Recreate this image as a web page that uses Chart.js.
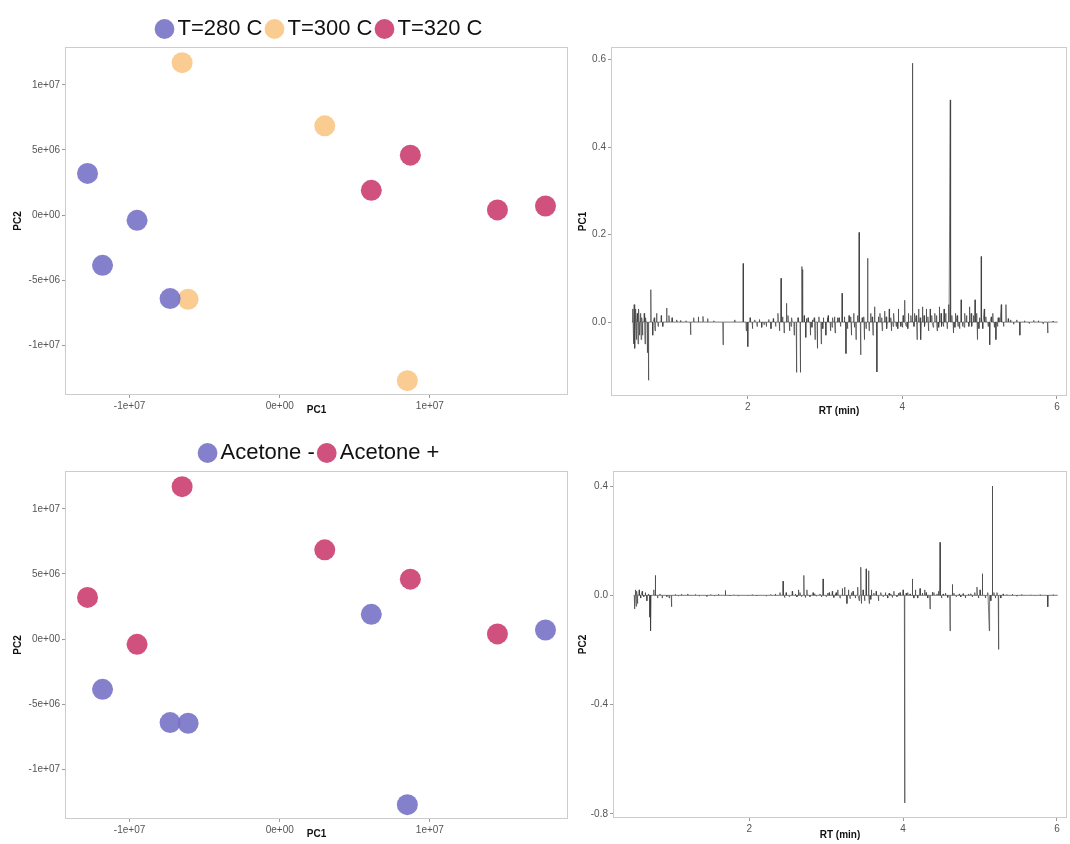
<!DOCTYPE html>
<html>
<head>
<meta charset="utf-8">
<script src="https://cdn.jsdelivr.net/npm/chart.js@4.4.1/dist/chart.umd.min.js"></script>
<style>
  body { margin: 0; background: #fff; }
  canvas { position: absolute; }
</style>
</head>
<body>
<canvas id="scoresTemp" width="570" height="420" style="left:0;top:0"></canvas>
<canvas id="loadPC1" width="500" height="420" style="left:570px;top:0"></canvas>
<canvas id="scoresAcetone" width="570" height="424" style="left:0;top:420px"></canvas>
<canvas id="loadPC2" width="500" height="424" style="left:570px;top:420px"></canvas>
<script>
// PCA scores, 12 samples (same order in both score plots)
var pc1Scores = [-1.28e7, -9.5e6, -1.18e7, -7.3e6, -6.5e6, 3.0e6, -6.1e6, 8.5e6, 8.7e6, 6.1e6, 1.45e7, 1.77e7];
var pc2Scores = [3.2e6, -0.4e6, -3.85e6, -6.4e6, 1.17e7, 6.85e6, -6.45e6, -1.27e7, 4.6e6, 1.9e6, 0.4e6, 0.7e6];
var tempGroup = ['T=280 C', 'T=280 C', 'T=280 C', 'T=280 C', 'T=300 C', 'T=300 C', 'T=300 C', 'T=300 C', 'T=320 C', 'T=320 C', 'T=320 C', 'T=320 C'];
var acetoneGroup = ['Acetone +', 'Acetone +', 'Acetone -', 'Acetone -', 'Acetone +', 'Acetone +', 'Acetone -', 'Acetone -', 'Acetone +', 'Acetone -', 'Acetone +', 'Acetone -'];
var tempLevels = ['T=280 C', 'T=300 C', 'T=320 C'];
var acetoneLevels = ['Acetone -', 'Acetone +'];

var scoreXTicks = [-1e7, 0, 1e7];
var scoreYTicks = [-1e7, -5e6, 0, 5e6, 1e7];

// loading peaks: [RT (min), loading]; the trace sits at 0 between them
var rtStart = 0.50, rtEnd = 6.01;
var pc1Peaks = [
  [0.51, 0.03], [0.52, -0.05], [0.53, 0.04], [0.54, -0.06], [0.55, 0.03], [0.56, -0.04], [0.57, 0.02],
  [0.58, -0.05], [0.59, 0.03], [0.60, -0.03], [0.61, 0.02], [0.62, -0.04], [0.63, 0.01], [0.64, -0.03],
  [0.66, 0.02], [0.67, -0.05], [0.68, 0.01], [0.70, -0.07], [0.715, -0.133], [0.745, 0.074], [0.77, -0.03],
  [0.79, 0.01], [0.80, -0.02], [0.82, 0.02], [0.84, -0.01], [0.88, 0.015], [0.90, -0.01], [0.95, 0.032],
  [0.98, 0.015], [1.02, 0.01], [1.08, 0.005], [1.13, 0.004], [1.20, 0.003], [1.26, -0.029], [1.30, 0.01],
  [1.36, 0.012], [1.42, 0.013], [1.48, 0.008], [1.56, 0.003], [1.68, -0.052], [1.83, 0.005], [1.94, 0.134],
  [1.98, -0.02], [2.00, -0.056], [2.03, 0.01], [2.06, -0.015], [2.09, 0.005], [2.12, -0.01], [2.15, 0.006],
  [2.18, -0.012], [2.21, -0.006], [2.24, -0.01], [2.27, 0.006], [2.30, -0.015], [2.33, 0.008], [2.36, -0.01],
  [2.39, 0.02], [2.41, -0.02], [2.43, 0.10], [2.45, 0.012], [2.47, -0.025], [2.50, 0.043], [2.52, 0.015],
  [2.54, -0.02], [2.56, -0.01], [2.57, 0.01], [2.60, -0.03], [2.63, -0.115], [2.65, 0.01], [2.68, -0.115],
  [2.70, 0.127], [2.71, 0.12], [2.73, 0.015], [2.75, -0.035], [2.76, 0.008], [2.78, 0.01], [2.81, -0.03],
  [2.83, -0.012], [2.84, 0.005], [2.86, 0.01], [2.87, -0.04], [2.90, -0.06], [2.92, 0.012], [2.95, -0.05],
  [2.97, -0.015], [2.98, 0.01], [3.01, -0.03], [3.03, 0.01], [3.04, 0.015], [3.07, -0.02], [3.09, -0.012],
  [3.10, 0.01], [3.12, 0.012], [3.13, -0.025], [3.16, 0.01], [3.18, 0.01], [3.20, -0.01], [3.22, 0.066],
  [3.25, 0.012], [3.27, -0.072], [3.29, -0.015], [3.31, 0.015], [3.33, 0.012], [3.34, -0.03], [3.37, 0.02],
  [3.38, -0.012], [3.40, -0.04], [3.42, 0.015], [3.44, 0.205], [3.46, -0.075], [3.48, 0.01], [3.50, 0.012],
  [3.51, -0.04], [3.53, -0.015], [3.55, 0.146], [3.57, -0.02], [3.59, 0.02], [3.61, 0.012], [3.62, -0.03],
  [3.64, 0.035], [3.67, -0.114], [3.69, 0.012], [3.71, 0.02], [3.73, 0.01], [3.74, -0.02], [3.77, 0.025],
  [3.79, 0.012], [3.80, -0.015], [3.83, 0.03], [3.85, 0.01], [3.86, -0.02], [3.88, -0.01], [3.89, 0.02],
  [3.92, -0.01], [3.94, -0.015], [3.95, 0.03], [3.98, -0.01], [4.00, -0.012], [4.01, 0.015], [4.03, 0.05],
  [4.05, -0.01], [4.07, -0.015], [4.08, 0.02], [4.11, 0.015], [4.13, 0.592], [4.15, -0.01], [4.16, 0.02],
  [4.18, 0.015], [4.19, -0.04], [4.21, 0.03], [4.23, 0.01], [4.24, -0.04], [4.26, 0.035], [4.28, 0.015],
  [4.29, -0.01], [4.31, 0.03], [4.33, 0.012], [4.34, -0.02], [4.36, 0.03], [4.38, 0.015], [4.40, -0.012],
  [4.42, 0.02], [4.44, 0.015], [4.45, -0.02], [4.47, -0.012], [4.48, 0.035], [4.50, 0.02], [4.51, -0.01],
  [4.53, -0.01], [4.54, 0.03], [4.56, 0.02], [4.58, -0.015], [4.60, 0.04], [4.62, 0.508], [4.64, 0.015],
  [4.66, -0.025], [4.68, -0.012], [4.69, 0.02], [4.71, 0.015], [4.72, -0.01], [4.74, -0.015], [4.76, 0.051],
  [4.78, -0.01], [4.80, -0.012], [4.81, 0.02], [4.83, 0.015], [4.86, -0.01], [4.87, 0.035], [4.89, 0.02],
  [4.90, -0.01], [4.92, 0.015], [4.94, 0.051], [4.96, 0.02], [4.97, -0.04], [4.99, -0.015], [5.00, 0.01],
  [5.02, 0.15], [5.04, -0.015], [5.06, 0.03], [5.08, 0.012], [5.11, -0.01], [5.13, -0.052], [5.15, 0.012],
  [5.17, 0.02], [5.19, -0.012], [5.21, -0.04], [5.23, -0.01], [5.24, 0.01], [5.26, 0.01], [5.28, 0.04],
  [5.31, -0.01], [5.34, 0.04], [5.37, 0.008], [5.40, 0.005], [5.44, -0.005], [5.48, 0.005], [5.52, -0.03],
  [5.58, 0.003], [5.64, -0.003], [5.70, 0.004], [5.76, 0.003], [5.82, -0.004], [5.88, -0.025], [5.95, 0.002]
];

var pc2Peaks = [
  [0.51, -0.05], [0.52, 0.02], [0.53, -0.04], [0.54, 0.015], [0.55, -0.03], [0.57, 0.02], [0.59, -0.01],
  [0.61, 0.015], [0.63, -0.005], [0.65, 0.01], [0.67, -0.02], [0.69, 0.005], [0.71, -0.08], [0.72, -0.13],
  [0.76, 0.02], [0.78, 0.073], [0.81, -0.01], [0.84, 0.005], [0.87, -0.01], [0.93, -0.005], [0.96, -0.01],
  [0.99, -0.042], [1.04, 0.003], [1.08, -0.003], [1.12, 0.004], [1.20, 0.005], [1.25, -0.002], [1.30, 0.003],
  [1.35, -0.003], [1.45, -0.004], [1.50, 0.003], [1.55, -0.003], [1.60, 0.004], [1.69, 0.018], [1.75, -0.002],
  [1.80, 0.002], [1.86, -0.003], [1.98, -0.002], [2.04, 0.002], [2.10, -0.002], [2.22, -0.003], [2.28, 0.003],
  [2.34, 0.005], [2.40, 0.01], [2.44, 0.052], [2.46, -0.008], [2.48, 0.01], [2.52, -0.005], [2.56, 0.015],
  [2.60, 0.005], [2.62, -0.006], [2.64, 0.02], [2.66, 0.01], [2.68, -0.005], [2.71, 0.073], [2.73, -0.008],
  [2.75, 0.02], [2.79, -0.005], [2.83, 0.01], [2.85, 0.006], [2.87, -0.003], [2.92, 0.005], [2.94, -0.006],
  [2.96, 0.06], [3.00, -0.005], [3.02, 0.008], [3.04, 0.01], [3.08, 0.015], [3.10, -0.008], [3.12, 0.005],
  [3.13, 0.01], [3.15, 0.02], [3.18, -0.01], [3.21, 0.025], [3.24, 0.03], [3.27, -0.03], [3.29, 0.02],
  [3.31, -0.012], [3.33, 0.01], [3.35, 0.015], [3.38, -0.01], [3.41, 0.03], [3.43, -0.02], [3.45, 0.103],
  [3.46, -0.03], [3.48, 0.02], [3.50, -0.02], [3.52, 0.097], [3.55, 0.09], [3.56, -0.03], [3.58, -0.015],
  [3.59, 0.02], [3.62, 0.008], [3.65, 0.015], [3.68, -0.02], [3.71, 0.01], [3.74, -0.005], [3.77, 0.01],
  [3.80, -0.01], [3.82, 0.008], [3.84, 0.005], [3.86, -0.008], [3.88, 0.015], [3.92, -0.005], [3.94, 0.008],
  [3.96, 0.01], [4.00, 0.02], [4.02, -0.76], [4.04, 0.008], [4.06, 0.01], [4.09, 0.005], [4.12, 0.06],
  [4.14, -0.01], [4.16, 0.02], [4.19, -0.01], [4.22, 0.025], [4.25, 0.008], [4.28, 0.02], [4.30, 0.01],
  [4.32, -0.01], [4.35, -0.05], [4.38, 0.012], [4.40, 0.01], [4.44, 0.005], [4.46, 0.015], [4.48, 0.194],
  [4.50, -0.01], [4.52, 0.005], [4.55, 0.008], [4.58, -0.008], [4.61, -0.13], [4.64, 0.04], [4.66, 0.008],
  [4.69, -0.005], [4.73, 0.005], [4.75, -0.006], [4.78, 0.006], [4.81, -0.01], [4.85, 0.005], [4.88, 0.006],
  [4.90, -0.006], [4.93, 0.01], [4.96, 0.03], [4.98, -0.01], [5.00, 0.02], [5.03, 0.079], [5.07, -0.01],
  [5.10, 0.01], [5.12, -0.13], [5.14, -0.02], [5.16, 0.40], [5.18, 0.01], [5.20, -0.01], [5.22, 0.01],
  [5.24, -0.198], [5.27, -0.01], [5.30, 0.005], [5.35, 0.003], [5.42, 0.004], [5.48, -0.003], [5.54, 0.003],
  [5.66, 0.002], [5.72, -0.002], [5.78, 0.002], [5.88, -0.042], [5.95, 0.002]
];
var rtTicks = [2, 4, 6];
var pc1LoadTicks = [0, 0.2, 0.4, 0.6];
var pc2LoadTicks = [-0.8, -0.4, 0, 0.4];

var groupColors = {
  'T=280 C': 'rgba(120, 114, 198, 0.9)',
  'T=300 C': 'rgba(251, 198, 134, 0.9)',
  'T=320 C': 'rgba(204, 62, 112, 0.9)',
  'Acetone -': 'rgba(120, 114, 198, 0.9)',
  'Acetone +': 'rgba(204, 62, 112, 0.9)'
};

var tickFont = { family: 'Liberation Sans, Arial, sans-serif', size: 10 };
var titleFont = { family: 'Liberation Sans, Arial, sans-serif', size: 10, weight: 'bold' };

function sciLabel(v) {
  if (v === 0) return '0e+00';
  var e = Math.floor(Math.log10(Math.abs(v)) + 1e-9);
  var m = Math.round(v / Math.pow(10, e));
  var s = e < 0 ? '-' : '+';
  var ae = Math.abs(e);
  return m + 'e' + s + (ae < 10 ? '0' + ae : ae);
}

// each peak becomes a thin spike up/down from the zero line
function toTrace(peaks) {
  var sorted = peaks.slice().sort(function (a, b) { return a[0] - b[0]; });
  var pts = [{ x: rtStart, y: 0 }];
  sorted.forEach(function (p) {
    pts.push({ x: p[0] - 0.004, y: 0 }, { x: p[0], y: p[1] }, { x: p[0] + 0.004, y: 0 });
  });
  pts.push({ x: rtEnd, y: 0 });
  return pts;
}

// grey frame round the plot area
var panelBorder = {
  id: 'panelBorder',
  afterDraw: function (chart) {
    var a = chart.chartArea, c = chart.ctx;
    c.save();
    c.strokeStyle = '#cccccc';
    c.lineWidth = 1;
    c.strokeRect(a.left + 0.5, a.top + 0.5, a.right - a.left - 1, a.bottom - a.top - 1);
    c.restore();
  }
};

// move the legend a little right / down, like ggplot places it
var nudgeLegend = {
  id: 'nudgeLegend',
  afterLayout: function (chart) {
    if (!chart.legend) return;
    chart.legend.left += 6; chart.legend.right += 6;
    chart.legend.top += 3; chart.legend.bottom += 3;
  }
};

function axis(opts) {
  return {
    type: 'linear',
    min: opts.min,
    max: opts.max,
    afterBuildTicks: function (scale) {
      scale.ticks = opts.ticks.map(function (v) { return { value: v }; });
    },
    afterFit: function (scale) {
      if (opts.width !== undefined) scale.width = opts.width;
      if (opts.height !== undefined) scale.height = opts.height;
    },
    grid: { display: true, drawOnChartArea: false, drawTicks: true, tickLength: 3, color: '#9a9a9a' },
    border: { display: false },
    ticks: {
      font: tickFont,
      color: '#555555',
      padding: 2,
      autoSkip: false,
      maxRotation: 0,
      callback: opts.format
    },
    title: { display: true, text: opts.title, font: titleFont, color: '#111111', padding: opts.titlePadding }
  };
}

function scoreChart(id, groups, levels, padTop) {
  var datasets = levels.map(function (lv) {
    var pts = [];
    for (var i = 0; i < pc1Scores.length; i++) {
      if (groups[i] === lv) pts.push({ x: pc1Scores[i], y: pc2Scores[i] });
    }
    return {
      label: lv,
      data: pts,
      backgroundColor: groupColors[lv],
      borderWidth: 0,
      pointRadius: 10.5,
      pointHoverRadius: 10.5
    };
  });
  return new Chart(document.getElementById(id), {
    type: 'scatter',
    data: { datasets: datasets },
    options: {
      responsive: false,
      animation: false,
      layout: { autoPadding: false, padding: { top: padTop, right: 2, left: 0, bottom: 0 } },
      plugins: {
        legend: {
          display: true,
          position: 'top',
          fullSize: false,
          labels: {
            usePointStyle: true,
            pointStyle: 'circle',
            boxWidth: 4,
            boxHeight: 14,
            padding: 10,
            color: '#111111',
            font: { family: 'Liberation Sans, Arial, sans-serif', size: 22 }
          }
        },
        tooltip: { enabled: false }
      },
      scales: {
        x: axis({ min: -1.43e7, max: 1.92e7, ticks: scoreXTicks, format: sciLabel, title: 'PC1', height: 25, titlePadding: { top: 0, bottom: 4 } }),
        y: axis({ min: -1.38e7, max: 1.29e7, ticks: scoreYTicks, format: sciLabel, title: 'PC2', width: 65, titlePadding: { top: 12, bottom: 0 } })
      }
    },
    plugins: [panelBorder, nudgeLegend]
  });
}

function loadingChart(id, peaks, yLabel, yMin, yMax, yTicks, yWidth, padTop, xHeight) {
  return new Chart(document.getElementById(id), {
    type: 'line',
    data: {
      datasets: [{
        label: yLabel,
        data: toTrace(peaks),
        borderColor: 'rgba(60, 60, 60, 0.85)',
        borderWidth: 0.8,
        pointRadius: 0,
        tension: 0,
        fill: false
      }]
    },
    options: {
      responsive: false,
      animation: false,
      layout: { autoPadding: false, padding: { top: padTop, right: 3, left: 0, bottom: 0 } },
      plugins: { legend: { display: false }, tooltip: { enabled: false } },
      scales: {
        x: axis({ min: 0.23, max: 6.13, ticks: rtTicks, format: function (v) { return String(v); }, title: 'RT (min)', height: xHeight, titlePadding: { top: 0, bottom: 3 } }),
        y: axis({ min: yMin, max: yMax, ticks: yTicks, format: function (v) { return v.toFixed(1); }, title: yLabel, width: yWidth, titlePadding: { top: 7, bottom: 0 } })
      }
    },
    plugins: [panelBorder]
  });
}

scoreChart('scoresTemp', tempGroup, tempLevels, 5);
scoreChart('scoresAcetone', acetoneGroup, acetoneLevels, 9);
loadingChart('loadPC1', pc1Peaks, 'PC1', -0.169, 0.629, pc1LoadTicks, 41, 47, 24);
loadingChart('loadPC2', pc2Peaks, 'PC2', -0.815, 0.455, pc2LoadTicks, 43, 51, 26);
</script>
</body>
</html>
